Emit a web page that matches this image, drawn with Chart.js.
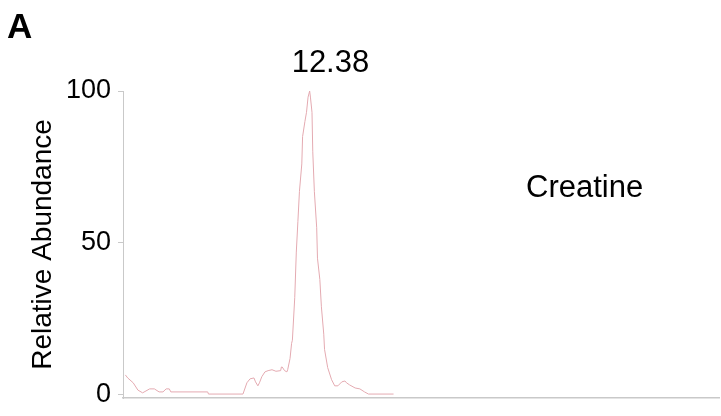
<!DOCTYPE html>
<html>
<head>
<meta charset="utf-8">
<script src="https://cdn.jsdelivr.net/npm/chart.js@4.4.1/dist/chart.umd.min.js"></script>
<style>
  html, body { margin: 0; padding: 0; background: #ffffff; }
  #wrap { width: 721px; height: 416px; position: relative; }
</style>
</head>
<body>
<div id="wrap"><canvas id="chart" width="721" height="416"></canvas></div>
<script>
// Retention time (min) of each scan in the trace
const retentionTimes = [
  10.03, 10.06, 10.13, 10.19, 10.25, 10.34, 10.40, 10.46, 10.51, 10.55,
  10.59, 10.61, 11.08, 11.09, 11.53, 11.58, 11.62, 11.67, 11.69, 11.72,
  11.74, 11.77, 11.81, 11.85, 11.90, 11.95, 12.01, 12.02, 12.03, 12.06,
  12.09, 12.10, 12.13, 12.15, 12.16, 12.19, 12.21, 12.23, 12.25, 12.28,
  12.29, 12.32, 12.34, 12.36, 12.38, 12.39, 12.41, 12.42, 12.44, 12.47,
  12.48, 12.51, 12.53, 12.56, 12.57, 12.61, 12.66, 12.70, 12.74, 12.79,
  12.83, 12.85, 12.89, 12.96, 13.02, 13.08, 13.13, 13.45
];
// Relative abundance (%) at each retention time
const abundance = [
  6.6, 5.6, 4.0, 1.6, 0.7, 2.0, 2.0, 1.0, 1.0, 2.0,
  2.0, 1.0, 1.0, 0.3, 0.3, 4.0, 5.3, 5.6, 4.3, 3.0,
  4.0, 6.0, 7.6, 8.0, 8.3, 7.8, 8.0, 9.2, 9.2, 8.0,
  7.6, 8.3, 12.0, 17.0, 18.0, 32.0, 47.0, 57.0, 67.0, 76.0,
  85.0, 90.0, 93.0, 98.0, 100.0, 98.0, 93.0, 80.0, 67.0, 55.0,
  45.0, 38.0, 29.0, 20.0, 15.0, 9.0, 5.0, 3.0, 3.0, 4.3,
  4.6, 4.0, 3.3, 2.3, 2.0, 1.0, 0.3, 0.3
];
const yTickValues = [0, 50, 100];
const compoundName = 'Creatine';
const panelLetter = 'A';

const FONT = '"Liberation Sans", Arial, Helvetica, sans-serif';
const AXIS_GRAY = '#c9c9c9';

const points = retentionTimes.map((t, i) => ({ x: t, y: abundance[i] }));

// Annotations: panel letter, compound name and apex retention time
const annotate = {
  id: 'annotate',
  afterDraw(chart) {
    const { ctx, scales } = chart;
    ctx.save();
    ctx.fillStyle = '#000';
    ctx.textAlign = 'left';
    ctx.textBaseline = 'alphabetic';

    ctx.font = 'bold 35px ' + FONT;
    ctx.fillText(panelLetter, 7, 38);

    ctx.font = '31px ' + FONT;
    ctx.fillText(compoundName, 526, 197);

    // apex label from the highest point of the trace
    let iMax = 0;
    abundance.forEach((v, i) => { if (v > abundance[iMax]) iMax = i; });
    const px = scales.x.getPixelForValue(retentionTimes[iMax]);
    const py = scales.y.getPixelForValue(abundance[iMax]);
    ctx.font = '31px ' + FONT;
    ctx.fillText(retentionTimes[iMax].toFixed(2), px - 18, py - 19);
    ctx.restore();
  }
};

new Chart(document.getElementById('chart'), {
  type: 'line',
  data: {
    datasets: [{
      data: points,
      borderColor: '#e4aab1',
      borderWidth: 1,
      pointRadius: 0,
      tension: 0,
      fill: false
    }]
  },
  options: {
    responsive: false,
    animation: false,
    events: [],
    layout: { autoPadding: false, padding: { left: 29, top: 91, right: 2, bottom: 18 } },
    plugins: { legend: { display: false }, tooltip: { enabled: false }, title: { display: false } },
    scales: {
      x: {
        type: 'linear',
        min: 10,
        max: 17.6,
        ticks: { display: false },
        grid: { display: false, drawTicks: false },
        border: { display: true, color: AXIS_GRAY, width: 1.5 },
        afterFit(scale) { scale.height = 0; }
      },
      y: {
        min: -1,
        max: 100,
        afterBuildTicks(scale) { scale.ticks = yTickValues.map(v => ({ value: v })); },
        afterFit(scale) {
          scale.width = 94;
          scale.paddingTop = 0;
          scale.paddingBottom = 0;
        },
        ticks: {
          color: '#000',
          font: { family: FONT, size: 27 },
          padding: 7
        },
        grid: { display: true, drawOnChartArea: false, drawTicks: true, tickLength: 5, color: AXIS_GRAY },
        border: { display: true, color: AXIS_GRAY, width: 1 },
        title: {
          display: true,
          text: 'Relative Abundance',
          color: '#000',
          font: { family: FONT, size: 28, lineHeight: 1 },
          padding: { top: 0, bottom: 11 }
        }
      }
    }
  },
  plugins: [annotate]
});
</script>
</body>
</html>
